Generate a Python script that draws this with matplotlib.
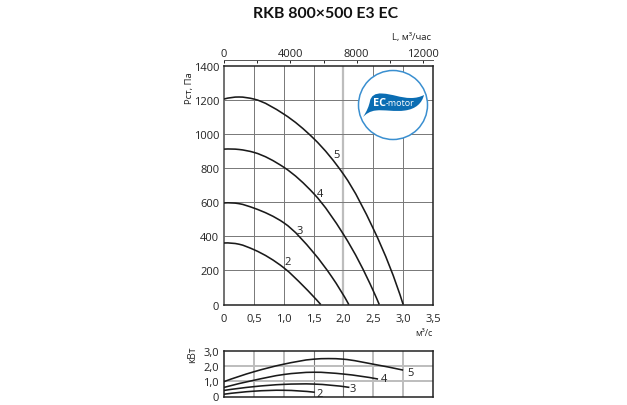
import matplotlib
matplotlib.use("Agg")
import matplotlib.pyplot as plt
import numpy as np
from matplotlib.path import Path
from matplotlib.patches import PathPatch, Circle

plt.rcParams['font.family'] = ['Open Sans', 'DejaVu Sans']

title = "RKB 800×500 E3 EC"
x_ticks = [0, 0.5, 1.0, 1.5, 2.0, 2.5, 3.0, 3.5]
x_labels = ["0", "0,5", "1,0", "1,5", "2,0", "2,5", "3,0", "3,5"]
y_ticks = [0, 200, 400, 600, 800, 1000, 1200, 1400]
top_ticks = [0, 4000, 8000, 12000]
top_minor = [2000, 6000, 10000]
p_ticks = [0, 1, 2, 3]
p_labels = ["0", "1,0", "2,0", "3,0"]

q5 = [0, 0.25, 0.5, 1.0, 1.5, 2.0, 2.5, 3.0]
p5 = [1206, 1218, 1206, 1118, 975, 765, 445, 0]
q4 = [0, 0.25, 0.5, 1.0, 1.5, 2.0, 2.5, 2.6]
p4 = [912, 910, 893, 806, 652, 412, 80, 0]
q3 = [0, 0.25, 0.5, 1.0, 1.5, 1.8, 2.09]
p3 = [596, 592, 566, 480, 304, 165, 0]
q2 = [0, 0.25, 0.5, 1.0, 1.33, 1.62]
p2 = [361, 354, 322, 216, 108, 0]

wq5 = [0, 0.5, 1.0, 1.5, 1.75, 2.0, 2.5, 3.0]
w5 = [0.98, 1.63, 2.13, 2.46, 2.5, 2.46, 2.13, 1.74]
wq4 = [0, 0.5, 1.0, 1.5, 2.0, 2.58]
w4 = [0.6, 1.07, 1.45, 1.6, 1.48, 1.15]
wq3 = [0, 0.5, 1.0, 1.5, 2.1]
w3 = [0.4, 0.65, 0.8, 0.82, 0.6]
wq2 = [0, 0.5, 1.0, 1.52]
w2 = [0.15, 0.35, 0.41, 0.28]

W, H = 627, 406
fig = plt.figure(figsize=(W/100, H/100), dpi=100)
def axes_px(l, t, r, b):
    return fig.add_axes([l/W, 1-b/H, (r-l)/W, (b-t)/H])

def smooth(ax, xs, ys, sy, lw=1.15):
    # Bezier path through the read points; tangents use the chord lengths in screen units
    pts = np.column_stack([xs, ys]).astype(float)
    scale = np.array([59.7, sy])
    s = pts*scale
    d = np.hypot(*np.diff(s, axis=0).T)
    n = len(s)
    m = np.zeros_like(s)
    for i in range(1, n-1):
        a, b = d[i-1], d[i]
        m[i] = ((s[i]-s[i-1])/a*b + (s[i+1]-s[i])/b*a)/(a+b)
    m[0] = 2*(s[1]-s[0])/d[0] - m[1]
    m[-1] = 2*(s[-1]-s[-2])/d[-1] - m[-2]
    verts = [pts[0]]
    codes = [Path.MOVETO]
    for i in range(n-1):
        verts += [(s[i]+m[i]*d[i]/3)/scale, (s[i+1]-m[i+1]*d[i]/3)/scale, pts[i+1]]
        codes += [Path.CURVE4]*3
    ax.add_patch(PathPatch(Path(verts, codes), fill=False, lw=lw, ec='#1a1a1a', zorder=4, capstyle='butt'))

GRID = '#777777'
LIGHT = '#bdbdbd'
TXT = '#222222'
FS = 8.0

# main chart
ax = axes_px(224, 67, 433, 305.5)
ax.set_xlim(0, 3.5); ax.set_ylim(0, 1400)
ax.set_xticks(x_ticks); ax.set_xticklabels(x_labels)
ax.set_yticks(y_ticks)
for v in x_ticks[1:-1]:
    if v == 2.0:
        ax.axvline(v, color=LIGHT, lw=1.6, zorder=1)
    else:
        ax.axvline(v, color=GRID, lw=0.7, zorder=1)
for v in y_ticks[1:-1]:
    ax.axhline(v, color=GRID, lw=0.7, zorder=1)
ax.tick_params(axis='x', length=0, labelsize=FS, colors=TXT, pad=6)
ax.tick_params(axis='y', length=0, labelsize=FS, colors=TXT, pad=3.5)
for s in ax.spines.values():
    s.set_linewidth(1.1); s.set_color('#222222')
ax.spines['left'].set_color('#666666'); ax.spines['left'].set_linewidth(1.3)
for (a, b) in [(q5, p5), (q4, p4), (q3, p3), (q2, p2)]:
    smooth(ax, a, b, 238.5/1400)
for t, x, y in [("5", 1.89, 880), ("4", 1.61, 650), ("3", 1.27, 435), ("2", 1.07, 255)]:
    ax.text(x, y, t, fontsize=FS, color=TXT, ha='center', va='center', zorder=5)
ax.text(-0.57, 1400 - 5*1400/238.5, "Рст, Па", rotation=90, fontsize=6.8, color=TXT, ha='center', va='top')
ax.text(3.2, -1400*28/238.5, "м³/с", fontsize=6.5, color=TXT, ha='left', va='center')

# top axis: detached scale line with short ticks pointing down
top = ax.secondary_xaxis(1 + 6/238.5, functions=(lambda v: v*3600, lambda v: v/3600))
top.set_xticks(top_ticks); top.set_xticklabels([str(v) for v in top_ticks])
top.set_xticks(top_minor, minor=True)
top.spines['top'].set_linewidth(0.7); top.spines['top'].set_color('#555555')
top.tick_params(which='major', direction='in', length=2.5, width=0.7, labelsize=FS, colors=TXT, pad=0.5)
top.tick_params(which='minor', direction='in', length=2.5, width=0.7, colors=TXT)
ax.text(2.81, 1400*(1+30/238.5), "L, м³/час", fontsize=6.8, color=TXT, ha='left', va='center')

# logo
lx = axes_px(355, 68, 431, 144)
lx.set_xlim(355, 431); lx.set_ylim(144, 68); lx.axis('off'); lx.patch.set_alpha(0)
lx.add_patch(Circle((393, 106), 34.5, fc='white', ec='#3a8fd0', lw=1.1))
leaf = Path(
    [(363, 118), (367, 112), (369, 107), (370, 102),
     (371, 97), (375, 94), (382, 94.5),
     (393, 95), (400, 99), (411, 99),
     (416, 99), (420, 98), (424, 96),
     (422, 104), (416, 110), (405, 111.5),
     (395, 113), (384, 110.5), (376, 111.5),
     (370, 112), (366, 115), (363, 118)],
    [Path.MOVETO] + [Path.CURVE4]*21)
lx.add_patch(PathPatch(leaf, fc='#0b6db3', ec='none'))
lx.text(386, 104, "EC", color='white', fontsize=7.8, fontweight='bold', ha='right', va='center')
lx.text(386, 104, "-motor", color='white', fontsize=6.4, ha='left', va='center')

# power chart
bx = axes_px(224, 352, 433, 397.5)
bx.set_xlim(0, 3.5); bx.set_ylim(0, 3)
bx.set_xticks([]); bx.set_yticks(p_ticks); bx.set_yticklabels(p_labels)
for v in x_ticks[1:-1]:
    thin = v in (1.5, 2.0)
    bx.axvline(v, color=GRID if thin else LIGHT, lw=0.8 if thin else 1.4, zorder=1)
for v in [1, 2]:
    bx.axhline(v, color=LIGHT, lw=1.4, zorder=1)
bx.tick_params(length=0, labelsize=FS, colors=TXT, pad=3.5)
for s in bx.spines.values():
    s.set_linewidth(1.1); s.set_color('#222222')
for (a, b) in [(wq5, w5), (wq4, w4), (wq3, w3), (wq2, w2)]:
    smooth(bx, a, b, 45.5/3)
for t, x, y in [("5", 3.13, 1.6), ("4", 2.68, 1.2), ("3", 2.16, 0.55), ("2", 1.6, 0.22)]:
    bx.text(x, y, t, fontsize=FS, color=TXT, ha='center', va='center', zorder=5, clip_on=False)
bx.text(-0.52, 3.35, "кВт", rotation=90, fontsize=7.2, color=TXT, ha='center', va='top')

fig.text(325.5/W, 1-14.5/H, title, fontsize=11.4, fontweight='bold', color='#111111',
         ha='center', va='center', family=['Lato', 'DejaVu Sans'])

fig.savefig("out.png", dpi=100)
